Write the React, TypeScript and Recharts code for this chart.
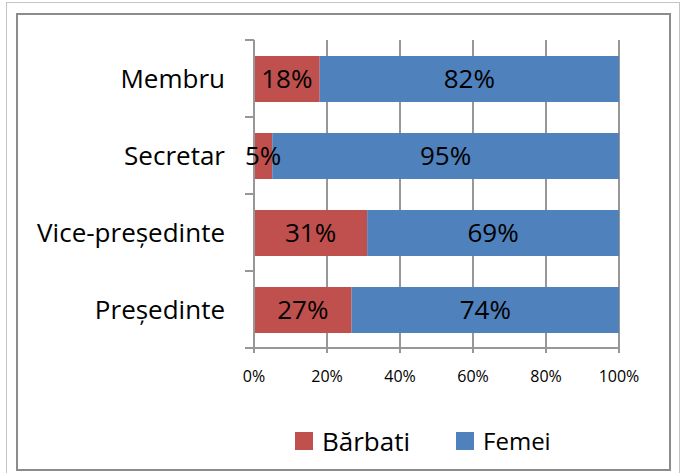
import { BarChart, Bar, XAxis, YAxis, CartesianGrid, Legend, LabelList } from 'recharts';

// categories, top to bottom
const functii = ['Membru', 'Secretar', 'Vice-președinte', 'Președinte'];
// procente citite din etichete
const barbati = [18, 5, 31, 27];
const femei = [82, 95, 69, 74];
const xTicks = [0, 0.2, 0.4, 0.6, 0.8, 1];

const data = functii.map((name, i) => ({ name, barbati: barbati[i], femei: femei[i] }));

const FONT = "'Open Sans', sans-serif";
const GRID = '#979797';

const W = 683;
const H = 474;
const M = { top: 40, right: 64, bottom: 96, left: 0 };
const Y_AXIS_W = 254;
const X_AXIS_H = 30;
// înălțimea unei benzi de categorie
const BAND = (H - M.top - M.bottom - X_AXIS_H) / functii.length;

// eticheta categoriei + liniuța de pe granița benzii (ca în Excel)
function CategoryTick(props: any) {
  const { x, y, payload, index } = props;
  const ax = M.left + Y_AXIS_W;
  const last = index === functii.length - 1;
  return (
    <g>
      <line x1={ax - 9} x2={ax} y1={y - BAND / 2} y2={y - BAND / 2} stroke={GRID} strokeWidth={2} />
      {last && <line x1={ax - 9} x2={ax} y1={y + BAND / 2} y2={y + BAND / 2} stroke={GRID} strokeWidth={2} />}
      <text x={x} y={y} dy="0.355em" textAnchor="end" fontSize={26} fontFamily={FONT} fill="#000">
        {payload.value}
      </text>
    </g>
  );
}

function LegendBox(props: any) {
  const items = props.payload ?? [];
  return (
    <div style={{ display: 'flex', alignItems: 'center', paddingLeft: 295, fontFamily: FONT }}>
      {items.map((it: any, i: number) => (
        <div key={it.value} style={{ display: 'flex', alignItems: 'center', marginRight: 46 }}>
          <span style={{ width: 18, height: 18, background: it.color, display: 'inline-block', marginRight: 9 }} />
          <span style={{ fontSize: i === 0 ? 26 : 24, lineHeight: '30px', color: '#000' }}>{it.value}</span>
        </div>
      ))}
    </div>
  );
}

export default function App() {
  return (
    <div style={{ position: 'absolute', left: 0, top: 0, width: W, height: H, background: '#fff' }}>
      <div
        style={{
          position: 'absolute', left: 6, top: 2, width: 674, height: 471, boxSizing: 'border-box',
          border: '1px solid #c4c4c4', borderBottom: 'none',
        }}
      />
      <div
        style={{
          position: 'absolute', left: 16, top: 13, width: 655, height: 458, boxSizing: 'border-box',
          border: '2px solid #8c8c8c',
        }}
      />
      <div style={{ position: 'absolute', left: 0, top: 0 }}>
        <BarChart width={W} height={H} data={data} layout="vertical" stackOffset="expand" margin={M}>
          <CartesianGrid horizontal={false} vertical stroke={GRID} strokeWidth={2} />
          <XAxis
            type="number"
            domain={[0, 1]}
            ticks={xTicks}
            tickFormatter={(v: number) => `${Math.round(v * 100)}%`}
            height={X_AXIS_H}
            tickSize={5}
            tickMargin={18}
            stroke={GRID}
            strokeWidth={2}
            tick={{ fontSize: 16, fill: '#000', fontFamily: FONT }}
          />
          <YAxis
            type="category"
            dataKey="name"
            width={Y_AXIS_W}
            tickLine={false}
            tickSize={0}
            tickMargin={29}
            stroke={GRID}
            strokeWidth={2}
            tick={<CategoryTick />}
          />
          <Legend
            verticalAlign="middle"
            align="center"
            layout="horizontal"
            wrapperStyle={{ top: 426, left: 0, width: W }}
            content={<LegendBox />}
          />
          <Bar dataKey="barbati" name="Bărbati" stackId="a" fill="#C0504D" barSize={46} isAnimationActive={false}>
            <LabelList
              dataKey="barbati"
              position="center"
              formatter={(v: any) => `${v}%`}
              fill="#000"
              style={{ fontSize: 26, fontFamily: FONT }}
            />
          </Bar>
          <Bar dataKey="femei" name="Femei" stackId="a" fill="#4F81BD" barSize={46} isAnimationActive={false}>
            <LabelList
              dataKey="femei"
              position="center"
              formatter={(v: any) => `${v}%`}
              fill="#000"
              style={{ fontSize: 26, fontFamily: FONT }}
            />
          </Bar>
        </BarChart>
      </div>
    </div>
  );
}
